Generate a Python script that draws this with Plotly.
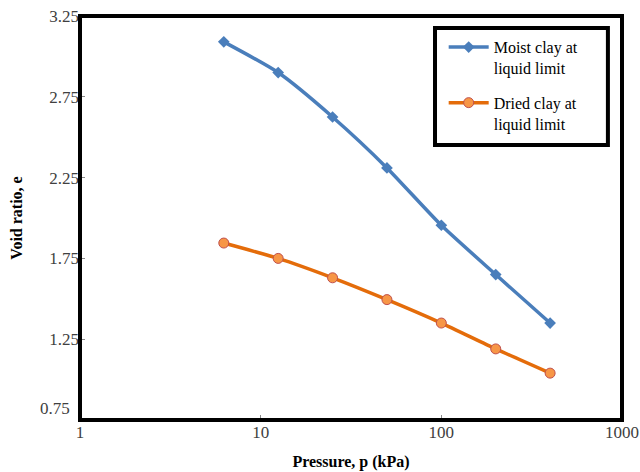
import plotly.graph_objects as go

pressure = [6.25, 12.5, 25, 50, 100, 200, 400]
moist_e = [3.09, 2.90, 2.625, 2.31, 1.955, 1.65, 1.35]
dried_e = [1.845, 1.75, 1.63, 1.495, 1.35, 1.19, 1.04]
y_ticks = [0.75, 1.25, 1.75, 2.25, 2.75, 3.25]
x_ticks = [1, 10, 100, 1000]

serif = "Liberation Serif, Times New Roman, serif"

fig = go.Figure()
fig.add_trace(go.Scatter(
    x=pressure, y=moist_e, mode="lines+markers", name="Moist clay at<br>liquid limit",
    line=dict(color="#4A7EBB", width=3.5, shape="spline", smoothing=0.6),
    marker=dict(symbol="diamond", size=9, color="#4A7EBB"),
    legendgroup="a"))
fig.add_trace(go.Scatter(
    x=pressure, y=dried_e, mode="lines+markers", name="Dried clay at<br>liquid limit",
    line=dict(color="#E46C0A", width=3.5, shape="spline", smoothing=0.6),
    marker=dict(symbol="circle", size=10, color="#F79646", line=dict(color="#C0504D", width=1)),
    legendgroup="b"))

ytext = ["" if v == y_ticks[0] else "%.2f" % v for v in y_ticks]

fig.update_layout(
    width=640, height=472,
    margin=dict(l=80, r=18, t=16, b=52, autoexpand=False),
    paper_bgcolor="white", plot_bgcolor="white",
    font=dict(family=serif, color="#404040", size=17),
    showlegend=True,
    legend=dict(x=0.671, y=0.965, xanchor="left", yanchor="top",
                borderwidth=0, bgcolor="rgba(0,0,0,0)", valign="top",
                font=dict(family=serif, size=16, color="black"),
                tracegroupgap=11, itemwidth=40),
    xaxis=dict(type="log", range=[0, 3], tickvals=x_ticks, ticktext=[str(v) for v in x_ticks],
               ticks="inside", ticklen=5, tickcolor="#888", showgrid=False, zeroline=False,
               showline=False, automargin=False, ticklabeloverflow="allow",
               title=dict(text="<b>Pressure, p (kPa)</b>", font=dict(family=serif, size=16, color="black"), standoff=14)),
    yaxis=dict(range=[0.75, 3.25], tickvals=y_ticks, ticktext=ytext,
               ticks="inside", ticklen=5, tickcolor="#888", showgrid=False, zeroline=False,
               showline=False, automargin=False, ticklabeloverflow="allow",
               title=dict(text="<b>Void ratio, e</b>", font=dict(family=serif, size=16, color="black"), standoff=22)),
)

fig.add_annotation(xref="paper", yref="y", x=0, y=y_ticks[0], text="%.2f" % y_ticks[0],
                   showarrow=False, xanchor="right", xshift=-8, yshift=12,
                   font=dict(family=serif, size=17, color="#404040"))

# plot frame
fig.add_shape(type="rect", xref="paper", yref="paper", x0=0, x1=1, y0=0, y1=1,
              line=dict(color="black", width=4), layer="above")
# legend box
fig.add_shape(type="rect", xref="paper", yref="paper", x0=0.655, x1=0.974, y0=0.681, y1=0.970,
              line=dict(color="black", width=4), layer="above")

fig.write_html("out.html", config={"displayModeBar": False},
               post_script="document.body.style.margin='0px';document.body.style.overflow='hidden';")
